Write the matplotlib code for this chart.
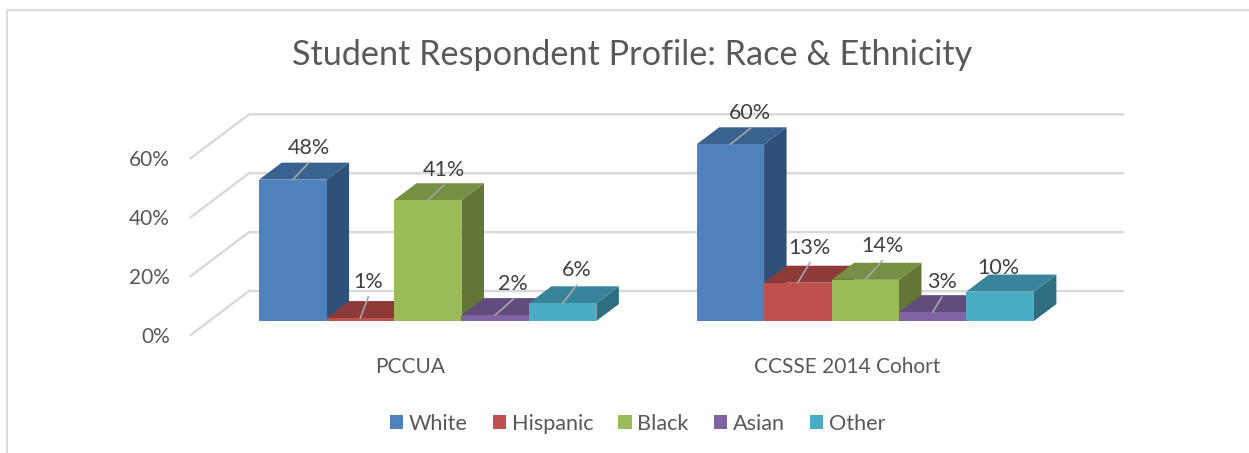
#!/usr/bin/env python3
import matplotlib
matplotlib.use("Agg")
import matplotlib.pyplot as plt
from matplotlib.patches import Polygon
from matplotlib.lines import Line2D

plt.rcParams["font.family"] = ["Lato", "DejaVu Sans"]

groups = ["PCCUA", "CCSSE 2014 Cohort"]
series = ["White", "Hispanic", "Black", "Asian", "Other"]
pccua = [48, 1, 41, 2, 6]
ccsse = [60, 13, 14, 3, 10]
ticks = [0, 20, 40, 60]

front = ["#4f81bd", "#c0504d", "#9bbb59", "#8064a2", "#4bacc6"]
top = ["#3a6290", "#8e3a38", "#758f43", "#624c7d", "#38849a"]
side = ["#2f5078", "#7a3230", "#637636", "#523f69", "#2f6e80"]

# label offsets from the centre of the bar top, pixels
pccua_dx = [16, 8, 16, 18, 14]
pccua_dy = [34, 38, 32, 33, 35]
ccsse_dx = [20, 12, 17, 9, -2]
ccsse_dy = [33, 37, 36, 32, 26]
ccsse_leader = [True, True, True, True, False]
pccua_leader = [True, True, True, True, True]

W, H = 1249, 453
PX_X = 67.45   # pixels per bar width
PX_Y = 2.945   # pixels per percent
X0, Y0 = 427.75, 321  # pixel of first group centre and of the zero line
GROUP_GAP = 437.5 / PX_X
DEPTH_X = 22.5 / PX_X
DEPTH_Y = 17 / PX_Y
WALL_BACK = 30 / PX_Y      # back wall zero line above bar baseline
WALL_FRONT = -14 / PX_Y    # front floor edge
WALL_LEFT = (249 - X0) / PX_X
WALL_START = (190.7 - X0) / PX_X
WALL_END = (1123 - X0) / PX_X
TEXT_DROP = 2 / PX_Y       # lato sits a bit high with va=center

fig = plt.figure(figsize=(W / 100, H / 100), dpi=100)
ax = fig.add_axes([0, 0, 1, 1])
ax.set_xlim(-X0 / PX_X, (W - X0) / PX_X)
ax.set_ylim((Y0 - H) / PX_Y, Y0 / PX_Y)
ax.axis("off")

# chart frame, open on the right and at the bottom
fig.add_artist(Line2D([6.5 / W, 6.5 / W, 1], [0, 1 - 9.5 / H, 1 - 9.5 / H],
                      color="#dcdcdc", lw=1.5))

ax.text((632.5 - X0) / PX_X, (Y0 - 55) / PX_Y, "Student Respondent Profile: Race & Ethnicity",
        ha="center", va="center", fontsize=24.7, color="#595959")

# walls
for t in ticks:
    ax.plot([WALL_START, WALL_LEFT, WALL_END],
            [t + WALL_FRONT, t + WALL_BACK, t + WALL_BACK],
            color="#d9d9d9", lw=1.7, zorder=1, solid_joinstyle="miter")
    ax.text((170 - X0) / PX_X, t + WALL_FRONT - TEXT_DROP, f"{t}%", ha="right", va="center",
            fontsize=15, color="#595959")


def draw_group(values, centre, dxs, dys, leaders):
    handles = []
    for i, v in enumerate(values):
        x = centre - 2 + i
        l, r = x - 0.5, x + 0.5
        z = 2 + i
        ax.add_patch(Polygon([(r, 0), (r + DEPTH_X, DEPTH_Y), (r + DEPTH_X, v + DEPTH_Y), (r, v)],
                             closed=True, fc=side[i], ec="none", zorder=z))
        ax.add_patch(Polygon([(l, v), (l + DEPTH_X, v + DEPTH_Y), (r + DEPTH_X, v + DEPTH_Y), (r, v)],
                             closed=True, fc=top[i], ec="none", zorder=z))
        b = ax.bar(x, v, width=1, color=front[i], zorder=z, label=series[i])
        handles.append(b)
        lx = x + dxs[i] / PX_X
        ax.text(lx, v + dys[i] / PX_Y - TEXT_DROP, f"{v}%", ha="center", va="center",
                fontsize=15.5, color="#404040", zorder=20)
        if leaders[i]:
            ax.plot([x, lx], [v, v + (dys[i] - 17) / PX_Y], color="#a6a6a6", lw=1.2, zorder=19)
    return handles


handles = draw_group(pccua, 0, pccua_dx, pccua_dy, pccua_leader)
draw_group(ccsse, GROUP_GAP, ccsse_dx, ccsse_dy, ccsse_leader)

for i, g in enumerate(groups):
    ax.text(i * GROUP_GAP - 18 / PX_X, (Y0 - 366) / PX_Y - TEXT_DROP / 2, g, ha="center", va="center",
            fontsize=15, color="#595959")

ax.legend(handles, series, ncol=5, loc="center", bbox_to_anchor=(637.5 / W, 1 - 424 / H),
          frameon=False, fontsize=15.6, labelcolor="#595959", handlelength=0.63, handleheight=0.63,
          handletextpad=0.25, columnspacing=1.15)

fig.savefig("out.png", dpi=100, facecolor="white")
